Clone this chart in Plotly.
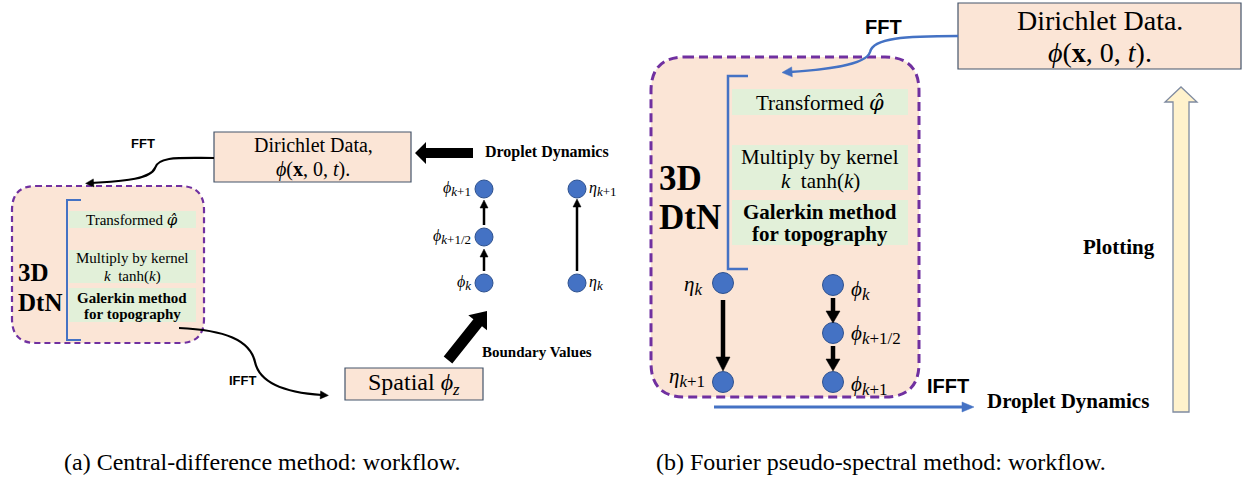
import math
import plotly.graph_objects as go

W, H = 1244, 479

# ---------------- text content ----------------
captions = ["(a) Central-difference method: workflow.",
            "(b) Fourier pseudo-spectral method: workflow."]
dirichlet_a = ["Dirichlet Data,", "<i>ϕ</i>(<b>x</b>, 0, <i>t</i>)."]
dirichlet_b = ["Dirichlet Data.", "<i>ϕ</i>(<b>x</b>, 0, <i>t</i>)."]
HAT_PHI = "<span style=\"font-family:'DejaVu Serif'\"><i>φ̂</i></span>"
dtn_steps = [["Transformed " + HAT_PHI],
             ["Multiply by kernel", "<i>k</i>  tanh(<i>k</i>)"],
             ["<b>Galerkin method</b>", "<b>for topography</b>"]]
dtn_title = ["<b>3D</b>", "<b>DtN</b>"]
spatial_label = "Spatial <i>ϕ<sub>z</sub></i>"
phi_symbols = [("ϕ", "<i>k</i>"), ("ϕ", "<i>k</i>+1/2"), ("ϕ", "<i>k</i>+1")]
eta_symbols = [("η", "<i>k</i>"), ("η", "<i>k</i>+1")]
flow_labels = {"fft": "FFT", "ifft": "IFFT", "dyn": "Droplet Dynamics",
               "bnd": "Boundary Values", "plot": "Plotting"}

# ---------------- styling ----------------
PEACH = "#FBE5D6"
GREEN = "#E2F0D9"
PURPLE = "#7030A0"
BLUE = "#4472C4"
NODE_EDGE = "#2F528F"
BOX_EDGE = "#44546A"
SERIF = "Liberation Serif"
SANS = "Liberation Sans"

shapes = []
annotations = []


def subscripted(base, sub, sub_px):
    return f"<i>{base}</i><sub><span style=\"font-size:{sub_px}px\">{sub}</span></sub>"


def rect(x0, y0, x1, y1, fill, line=None, lw=1):
    shapes.append(dict(type="rect", x0=x0, y0=y0, x1=x1, y1=y1, xref="x", yref="y",
                       fillcolor=fill, layer="below",
                       line=dict(color=line or fill, width=lw if line else 0)))


def rounded_box(x0, y0, x1, y1, r, lw, dash):
    p = (f"M{x0+r},{y0} L{x1-r},{y0} Q{x1},{y0} {x1},{y0+r} L{x1},{y1-r} "
         f"Q{x1},{y1} {x1-r},{y1} L{x0+r},{y1} Q{x0},{y1} {x0},{y1-r} "
         f"L{x0},{y0+r} Q{x0},{y0} {x0+r},{y0} Z")
    shapes.append(dict(type="path", path=p, xref="x", yref="y", fillcolor=PEACH,
                       layer="below", line=dict(color=PURPLE, width=lw, dash=dash)))


def bracket(x, y0, y1, tick, lw):
    shapes.append(dict(type="path", path=f"M{x+tick},{y0} L{x},{y0} L{x},{y1} L{x+tick},{y1}",
                       xref="x", yref="y", layer="below", line=dict(color=BLUE, width=lw)))


def head(x1, y1, ux, uy, hw, hl, color):
    px, py = -uy, ux
    bx, by = x1 - ux * hl, y1 - uy * hl
    p = (f"M{x1},{y1} L{bx + px*hw/2},{by + py*hw/2} "
         f"L{bx - px*hw/2},{by - py*hw/2} Z")
    shapes.append(dict(type="path", path=p, xref="x", yref="y", fillcolor=color,
                       line=dict(color=color, width=0.5)))


def arrow(x0, y0, x1, y1, lw, hw, hl, color="black"):
    L = math.hypot(x1 - x0, y1 - y0)
    ux, uy = (x1 - x0) / L, (y1 - y0) / L
    bx, by = x1 - ux * hl * 0.8, y1 - uy * hl * 0.8
    shapes.append(dict(type="path", path=f"M{x0},{y0} L{bx},{by}", xref="x", yref="y",
                       line=dict(color=color, width=lw)))
    head(x1, y1, ux, uy, hw, hl, color)


def curve_arrow(pts, lw, hw, hl, color):
    (x0, y0), c1, c2, m, c3, c4, (x1, y1) = pts
    shapes.append(dict(type="path", xref="x", yref="y",
                       path=(f"M{x0},{y0} C{c1[0]},{c1[1]} {c2[0]},{c2[1]} {m[0]},{m[1]} "
                             f"C{c3[0]},{c3[1]} {c4[0]},{c4[1]} {x1},{y1}"),
                       line=dict(color=color, width=lw)))
    L = math.hypot(x1 - c4[0], y1 - c4[1])
    ux, uy = (x1 - c4[0]) / L, (y1 - c4[1]) / L
    head(x1 + ux * hl * 0.8, y1 + uy * hl * 0.8, ux, uy, hw, hl, color)


def block_arrow(x0, y0, x1, y1, bw, hw, hl, fill, edge=None, lw=0):
    L = math.hypot(x1 - x0, y1 - y0)
    ux, uy = (x1 - x0) / L, (y1 - y0) / L
    px, py = -uy, ux
    bx, by = x1 - ux * hl, y1 - uy * hl
    pts = [(x0 + px*bw/2, y0 + py*bw/2), (bx + px*bw/2, by + py*bw/2),
           (bx + px*hw/2, by + py*hw/2), (x1, y1),
           (bx - px*hw/2, by - py*hw/2), (bx - px*bw/2, by - py*bw/2),
           (x0 - px*bw/2, y0 - py*bw/2)]
    p = "M" + " L".join(f"{a:.1f},{b:.1f}" for a, b in pts) + " Z"
    shapes.append(dict(type="path", path=p, xref="x", yref="y", fillcolor=fill,
                       line=dict(color=edge or fill, width=lw)))


def text(x, y, s, size, family=SERIF, anchor="center", color="black"):
    annotations.append(dict(x=x, y=y, xref="x", yref="y", text=s, showarrow=False,
                            xanchor=anchor, yanchor="middle", align="center",
                            font=dict(family=family, size=size, color=color)))


def lines(x, ys, items, size, family=SERIF, anchor="center"):
    for y, s in zip(ys, items):
        text(x, y, s, size, family, anchor)


# ================= panel (a): central difference =================
rect(214, 132, 411, 182, PEACH, BOX_EDGE, 1.2)
lines(313, [145, 169], dirichlet_a, 20)
text(143, 143, f"<b>{flow_labels['fft']}</b>", 13, SANS)
curve_arrow([(214, 158), (180, 158), (158, 156), (155, 168),
             (150, 180), (120, 181), (92, 183)], 2.2, 8, 8, "black")

rounded_box(12, 186, 204, 343, 24, 2.2, "6px,4px")
bracket(67, 200, 340, 14, 2)
for y0, y1 in [(211, 228), (250, 283), (288, 322)]:
    rect(69, y0, 196, y1, GREEN)
lines(132, [220], dtn_steps[0], 15)
lines(132, [258, 276], dtn_steps[1], 15)
lines(132, [298, 314], dtn_steps[2], 15)
lines(16, [272, 302], dtn_title, 25, anchor="left")

curve_arrow([(179, 328), (225, 330), (250, 340), (255, 362),
             (260, 385), (290, 393), (322, 395)], 2.2, 8, 8, "black")
text(242, 380, f"<b>{flow_labels['ifft']}</b>", 13, SANS)

rect(345, 368, 483, 400, PEACH, BOX_EDGE, 1.2)
text(414, 384, spatial_label, 24)

block_arrow(473, 153, 415, 153, 10, 22, 11, "black")
text(483, 152, f"<b>{flow_labels['dyn']}</b>", 16, anchor="left")
block_arrow(448, 360, 487, 311, 11, 24, 15, "black")
text(480, 352, f"<b>{flow_labels['bnd']}</b>", 15, anchor="left")

phi_a_x, phi_a_y = 484, [283, 237, 189]
eta_a_x, eta_a_y = 577, [283, 189]
arrow(484, 271, 484, 249, 2.5, 8, 8)
arrow(484, 225, 484, 200, 2.5, 8, 8)
arrow(577, 271, 577, 199, 2.5, 8, 8)
for y, (b, s) in zip(phi_a_y, phi_symbols):
    text(473, y, subscripted(b, s, 13), 16, anchor="right")
for y, (b, s) in zip(eta_a_y, eta_symbols):
    text(587, y, subscripted(b, s, 13), 16, anchor="left")

# ================= panel (b): Fourier pseudo-spectral =================
rect(958, 3, 1241, 69, PEACH, BOX_EDGE, 1.2)
lines(1100, [20, 52], dirichlet_b, 28)
text(883, 27, f"<b>{flow_labels['fft']}</b>", 20, SANS)
curve_arrow([(958, 36), (905, 36), (873, 38), (870, 52),
             (866, 66), (820, 70), (790, 72)], 2.5, 10, 10, BLUE)

rounded_box(651, 57, 919, 397, 34, 3, "9px,5px")
bracket(728, 76, 269, 20, 2.5)
for y0, y1 in [(89, 115), (145, 190), (200, 245)]:
    rect(732, y0, 908, y1, GREEN)
lines(820, [103], dtn_steps[0], 21)
lines(820, [157, 181], dtn_steps[1], 21)
lines(820, [212, 234], dtn_steps[2], 21)
lines(657, [178, 217], dtn_title, 35, anchor="left")

eta_b_x, eta_b_y = 723, [283, 382]
phi_b_x, phi_b_y = 833, [285, 333, 382]
arrow(723, 300, 723, 371, 4.5, 14, 14)
arrow(833, 298, 833, 323, 4.5, 14, 12)
arrow(833, 346, 833, 371, 4.5, 14, 12)
for (x, y), (b, s) in zip([(704, 285), (707, 377)], eta_symbols):
    text(x, y, subscripted(b, s, 17), 21, anchor="right")
for (x, y), (b, s) in zip([(849, 290), (849, 334), (849, 385)], phi_symbols):
    text(x, y, subscripted(b, s, 17), 21, anchor="left")

text(948, 386, f"<b>{flow_labels['ifft']}</b>", 20, SANS)
arrow(714, 407, 974, 407, 3, 10, 12, BLUE)
text(985, 401, f"<b>{flow_labels['dyn']}</b>", 21, anchor="left")

block_arrow(1181, 412, 1181, 87, 16, 32, 15, "#FFF2CC", "#7F8BA0", 1.3)
text(1119, 247, f"<b>{flow_labels['plot']}</b>", 21)

# captions
text(262, 462, captions[0], 24)
text(881, 462, captions[1], 24)

# ---------------- nodes ----------------
fig = go.Figure()
node_style = dict(mode="markers", hoverinfo="skip", showlegend=False)
fig.add_trace(go.Scatter(x=[phi_a_x] * 3 + [eta_a_x] * 2, y=phi_a_y + eta_a_y,
                         marker=dict(size=18, color=BLUE, line=dict(color=NODE_EDGE, width=1)),
                         **node_style))
fig.add_trace(go.Scatter(x=[eta_b_x] * 2 + [phi_b_x] * 3, y=eta_b_y + phi_b_y,
                         marker=dict(size=21, color=BLUE, line=dict(color=NODE_EDGE, width=1)),
                         **node_style))

fig.update_layout(
    width=W, height=H, margin=dict(l=0, r=0, t=0, b=0),
    paper_bgcolor="white", plot_bgcolor="white",
    xaxis=dict(range=[0, W], visible=False, fixedrange=True),
    yaxis=dict(range=[H, 0], visible=False, fixedrange=True),
    shapes=shapes, annotations=annotations,
)
fig.write_html("out.html")
